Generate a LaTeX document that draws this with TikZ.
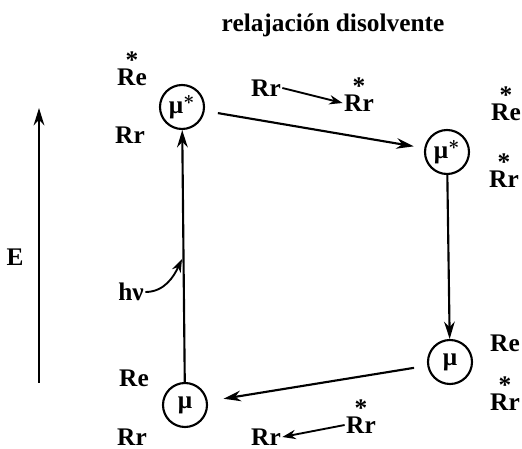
\documentclass[tikz,border=0pt]{standalone}
\usepackage{amsmath, amsfonts, amssymb}
\usepackage{fontspec}
\setmainfont{Liberation Serif}
\usepackage{tikz}
\usetikzlibrary{arrows.meta,positioning}

\tikzset{
    state/.style={circle, draw, line width=1.6pt, minimum size=33pt, inner sep=0pt},
    lbl/.style={font=\fontsize{19}{21}\selectfont\bfseries, inner sep=1pt},
    exc/.style={label={[starlbl]above:*}},
    starlbl/.style={font=\fontsize{19}{21}\selectfont\bfseries, inner sep=0pt, label distance=-1pt},
    arr/.style={line width=1.6pt, -{Stealth[length=13pt,width=8pt]}},
    smallarr/.style={line width=1.4pt, -{Stealth[length=10pt,width=7pt]}}
}

\begin{document}
\begin{tikzpicture}[x=0.75pt, y=-0.75pt]
    \useasboundingbox (0,0) rectangle (522,449);

    \node (title) at (333,25) [lbl] {relajación disolvente};

    % energy axis
    \coordinate (ebot) at (39,383);
    \coordinate (etop) at (39,108);
    \draw[arr, line width=2pt] (ebot) -- (etop);
    \node (E) at (15,257) [lbl] {E};

    % states
    \node (mu1a) at (182,107) [state, lbl] {μ$^{\boldsymbol{*}}$};
    \node (mu1b) at (447,152) [state, lbl] {μ$^{\boldsymbol{*}}$};
    \node (mu0b) at (450,362) [state, lbl] {μ};
    \node (mu0a) at (185,405) [state, lbl] {μ};

    % solvent labels
    \node (ReS1) at (132,77) [lbl, exc] {Re};
    \node (Rr1) at (130,135) [lbl] {Rr};
    \node (ReS2) at (506,112) [lbl, exc] {Re};
    \node (RrS2) at (504,179) [lbl, exc] {Rr};
    \node (Re2) at (505,343) [lbl] {Re};
    \node (RrS3) at (505,402) [lbl, exc] {Rr};
    \node (Re0) at (134,378) [lbl] {Re};
    \node (Rr0) at (132,437) [lbl] {Rr};

    \node (RrA) at (266,88) [lbl] {Rr};
    \node (RrAs) at (359,103) [lbl, exc] {Rr};
    \node (RrB) at (266,437) [lbl] {Rr};
    \node (RrBs) at (361,425) [lbl, exc] {Rr};

    \node (hv) at (131,292) [lbl] {hν};
    \coordinate (hvend) at (182,259);

    % transitions
    \draw[arr] (mu0a) -- (mu1a);
    \draw[arr, shorten <=10pt, shorten >=8pt] (mu1a) -- (mu1b);
    \draw[arr] (mu1b) -- (mu0b);
    \draw[arr, shorten <=10pt, shorten >=12pt] (mu0b) -- (mu0a);

    \draw[smallarr] (RrA.east) -- (RrAs.west);
    \draw[smallarr] (RrBs.west) -- (RrB.east);
    \draw[smallarr] (hv.east) to[out=0, in=-115] (hvend);
\end{tikzpicture}
\end{document}
